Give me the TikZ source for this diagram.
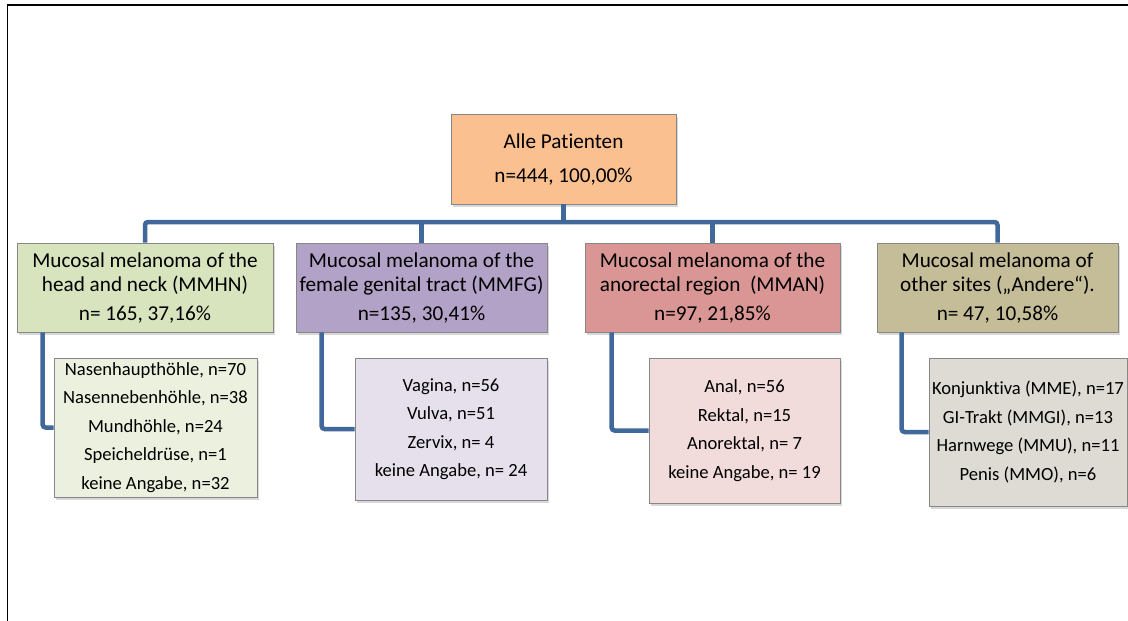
\documentclass[tikz,border=0pt]{standalone}
\usepackage{fontspec}
\setmainfont{Carlito}[Ligatures=NoCommon]
\usetikzlibrary{shadows}
\definecolor{connblue}{RGB}{65,104,154}
\definecolor{boxline}{RGB}{135,135,135}
\definecolor{rootfill}{RGB}{250,192,144}
\definecolor{greenA}{RGB}{215,228,189}
\definecolor{purpleA}{RGB}{179,162,199}
\definecolor{redA}{RGB}{217,150,148}
\definecolor{tanA}{RGB}{196,189,151}
\definecolor{greenB}{RGB}{235,241,222}
\definecolor{purpleB}{RGB}{230,224,236}
\definecolor{redB}{RGB}{242,220,219}
\definecolor{grayB}{RGB}{221,219,212}
\tikzset{
  box/.style={draw=boxline, line width=0.8pt, inner sep=0pt, align=center, text=black,
    drop shadow={shadow xshift=2pt, shadow yshift=-2.5pt, opacity=0.3}},
  topfont/.style={font=\fontsize{21.2}{24}\selectfont},
  subfont/.style={font=\fontsize{18.6}{28.5}\selectfont},
  conn/.style={draw=connblue, line width=4.5pt},
}
\begin{document}
\begin{tikzpicture}[x=1pt,y=-1pt]
\useasboundingbox (0,0) rectangle (1128,621);
\fill[white] (0,0) rectangle (1128,621);
\draw[line width=1.5pt] (7.5,621) -- (7.5,5) -- (1128,5);

% root
\node[box, topfont, fill=rootfill, minimum width=225pt, minimum height=90pt] (root) at (563.5,159)
  {Alle Patienten\\[10pt]n=444, 100,00\%};

% level 1
\node[box, topfont, fill=greenA, minimum width=256pt, minimum height=89pt] (mmhn) at (145,287.5)
  {Mucosal melanoma of the\\head and neck (MMHN)\\[5pt]n= 165, 37,16\%};
\node[box, topfont, fill=purpleA, minimum width=251pt, minimum height=89pt] (mmfg) at (421.5,287.5)
  {Mucosal melanoma of the\\female genital tract (MMFG)\\[5pt]n=135, 30,41\%};
\node[box, topfont, fill=redA, minimum width=255pt, minimum height=89pt] (mman) at (712.5,287.5)
  {Mucosal melanoma of the\\anorectal region\ \ (MMAN)\\[5pt]n=97, 21,85\%};
\node[box, topfont, fill=tanA, minimum width=241pt, minimum height=89pt] (oth) at (997.5,287.5)
  {Mucosal melanoma of\\other sites („Andere“).\\[5pt]n= 47, 10,58\%};

% level 2
\node[box, subfont, fill=greenB, minimum width=203pt, minimum height=139pt] (mmhnc) at (155.5,427.5)
  {Nasenhaupthöhle, n=70\\Nasennebenhöhle, n=38\\Mundhöhle, n=24\\Speicheldrüse, n=1\\keine Angabe, n=32};
\node[box, subfont, fill=purpleB, minimum width=192pt, minimum height=142pt] (mmfgc) at (451,429)
  {Vagina, n=56\\Vulva, n=51\\Zervix, n= 4\\keine Angabe, n= 24};
\node[box, subfont, fill=redB, minimum width=191pt, minimum height=145pt] (mmanc) at (744.5,430.5)
  {Anal, n=56\\Rektal, n=15\\Anorektal, n= 7\\keine Angabe, n= 19};
\node[box, subfont, fill=grayB, minimum width=198pt, minimum height=148pt] (othc) at (1028,432)
  {Konjunktiva (MME), n=17\\GI-Trakt (MMGI), n=13\\Harnwege (MMU), n=11\\Penis (MMO), n=6};

% connectors
\coordinate (bus) at (563.5,222);
\draw[conn] (root) -- (bus);
\draw[conn, rounded corners=3pt] (bus) -| (mmhn);
\draw[conn] (bus) -| (mmfg);
\draw[conn] (bus) -| (mman);
\draw[conn, rounded corners=3pt] (bus) -| (oth);

\draw[conn, rounded corners=3pt] ([xshift=26pt]mmhn.south west) |- (mmhnc.west);
\draw[conn, rounded corners=3pt] ([xshift=26pt]mmfg.south west) |- (mmfgc.west);
\draw[conn, rounded corners=3pt] ([xshift=27pt]mman.south west) |- (mmanc.west);
\draw[conn, rounded corners=3pt] ([xshift=25pt]oth.south west) |- (othc.west);
\end{tikzpicture}
\end{document}
